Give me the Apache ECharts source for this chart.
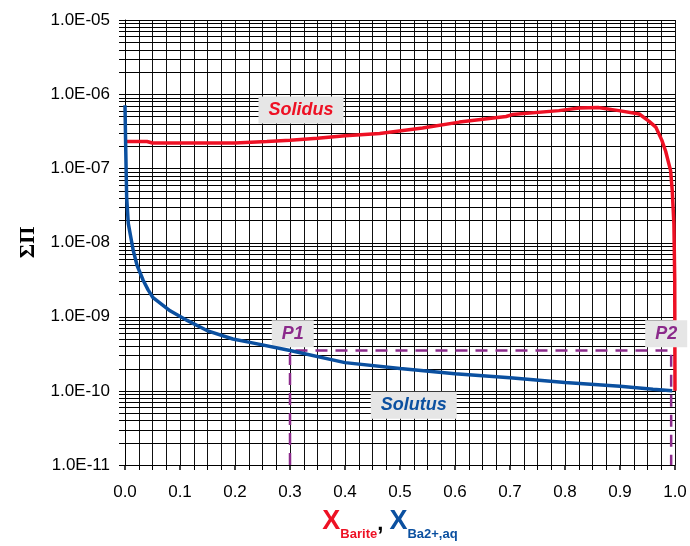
<!DOCTYPE html>
<html>
<head>
<meta charset="utf-8">
<script src="https://cdn.jsdelivr.net/npm/echarts@6/dist/echarts.min.js"></script>
<style>
  html, body { margin: 0; padding: 0; background: #fff; }
  #chart { width: 690px; height: 546px; }
</style>
</head>
<body>
<div id="chart"></div>
<script>
// Solutus curve: mole fraction of Ba2+ in the aqueous phase vs total solubility product
const solutusX = [0.0, 0.001, 0.002, 0.003, 0.006, 0.015, 0.022, 0.033, 0.042, 0.051, 0.082, 0.113, 0.149, 0.196,
                  0.227, 0.3, 0.4, 0.5, 0.6, 0.7, 0.8, 0.9, 0.96, 0.995];
const solutusY = [7.1e-7, 2.5e-7, 1.0e-7, 4.1e-8, 1.8e-8, 7.8e-9, 4.9e-9, 3.1e-9, 2.3e-9, 1.8e-9, 1.2e-9, 8.9e-10, 6.5e-10, 5.0e-10,
                  4.5e-10, 3.5e-10, 2.4e-10, 2.0e-10, 1.7e-10, 1.5e-10, 1.3e-10, 1.15e-10, 1.05e-10, 1.0e-10];

// Solidus curve: mole fraction of barite in the solid vs total solubility product
const solidusX = [0.003, 0.04, 0.05, 0.1, 0.2, 0.258, 0.3, 0.35, 0.4, 0.463, 0.541, 0.608, 0.693, 0.704,
                  0.789, 0.826, 0.86, 0.898, 0.935, 0.953, 0.965, 0.976, 0.983, 0.992, 0.995, 0.998, 0.9995, 1.0];
const solidusY = [2.3e-7, 2.3e-7, 2.2e-7, 2.2e-7, 2.2e-7, 2.3e-7, 2.4e-7, 2.55e-7, 2.75e-7, 2.95e-7, 3.5e-7, 4.2e-7,
                  5.0e-7, 5.3e-7, 6.0e-7, 6.5e-7, 6.6e-7, 6.0e-7, 5.4e-7, 4.3e-7, 3.6e-7, 2.4e-7, 1.7e-7, 9.3e-8,
                  5.0e-8, 1.8e-8, 3.2e-9, 1.0e-10];

// Points P1 and P2 on the common total solubility product level
const p1 = [0.3, 3.5e-10];
const p2 = [0.993, 3.5e-10];

// Axis ranges and tick labels
const xTicks = ['0.0', '0.1', '0.2', '0.3', '0.4', '0.5', '0.6', '0.7', '0.8', '0.9', '1.0'];
const yDecades = [-11, -10, -9, -8, -7, -6, -5];

const RED = '#ee1124';
const BLUE = '#0b50a0';
const PURPLE = '#8b2a8b';
const BOX = '#e6e6e6';
const SANS = 'Liberation Sans, Arial, sans-serif';

const zip = (xs, ys) => xs.map((x, i) => [x, ys[i]]);

const chart = echarts.init(document.getElementById('chart'), null, { renderer: 'canvas' });

function boxLabel(text, color) {
  return {
    show: true,
    position: 'inside',
    formatter: text,
    color: color,
    fontFamily: SANS,
    fontWeight: 'bold',
    fontStyle: 'italic',
    fontSize: 18,
    lineHeight: 18,
    backgroundColor: BOX,
    padding: [5, 10, 4, 10]
  };
}

const option = {
  animation: false,
  backgroundColor: '#fff',
  grid: { left: 125, right: 15, top: 20, bottom: 81, containLabel: false, outerBoundsMode: 'none' },
  xAxis: {
    type: 'value',
    min: 0, max: 1, interval: 0.1,
    axisLine: { show: true, onZero: false, lineStyle: { color: '#000', width: 1 } },
    axisTick: { show: true, inside: false, length: 5, lineStyle: { color: '#000', width: 1.5 } },
    minorTick: { show: true, splitNumber: 4, length: 5, lineStyle: { color: '#000', width: 1 } },
    splitLine: { show: true, lineStyle: { color: '#111', width: 1 } },
    minorSplitLine: { show: true, lineStyle: { color: '#111', width: 1 } },
    axisLabel: {
      margin: 19,
      color: '#000',
      fontFamily: SANS,
      fontSize: 17,
      formatter: (v) => xTicks[Math.round(v * 10)]
    },
    name: '{r|X}{rs|Barite}{k|, }{b|X}{bs|Ba2+,aq}',
    nameLocation: 'middle',
    nameGap: 43,
    nameTextStyle: {
      padding: [0, 20, 0, 0],
      rich: {
        r: { color: RED, fontFamily: SANS, fontWeight: 'bold', fontSize: 27, verticalAlign: 'bottom' },
        rs: { color: RED, fontFamily: SANS, fontWeight: 'bold', fontSize: 13, verticalAlign: 'bottom', padding: [0, 0, -6, 0] },
        k: { color: '#000', fontFamily: SANS, fontWeight: 'bold', fontSize: 22, verticalAlign: 'bottom' },
        b: { color: BLUE, fontFamily: SANS, fontWeight: 'bold', fontSize: 27, verticalAlign: 'bottom' },
        bs: { color: BLUE, fontFamily: SANS, fontWeight: 'bold', fontSize: 13, verticalAlign: 'bottom', padding: [0, 0, -6, 0] }
      }
    }
  },
  yAxis: {
    type: 'log',
    logBase: 10,
    min: Math.pow(10, yDecades[0]),
    max: Math.pow(10, yDecades[yDecades.length - 1]),
    axisLine: { show: true, lineStyle: { color: '#000', width: 1 } },
    axisTick: { show: false },
    splitLine: { show: false },
    axisLabel: {
      margin: 15,
      color: '#000',
      fontFamily: SANS,
      fontSize: 17,
      formatter: (v) => {
        const e = Math.round(Math.log10(v));
        const a = Math.abs(e);
        return '1.0E' + (e < 0 ? '-' : '+') + (a < 10 ? '0' + a : '' + a);
      }
    },
    name: 'ΣΠ',
    nameLocation: 'middle',
    nameRotate: 90,
    nameGap: 86,
    nameTextStyle: {
      color: '#000',
      fontFamily: 'Liberation Serif, Times New Roman, serif',
      fontWeight: 'bold',
      fontSize: 22
    }
  },
  series: [
    {
      name: 'P-lines',
      type: 'line',
      data: [[p1[0], Math.pow(10, yDecades[0])], p1, p2, [p2[0], Math.pow(10, yDecades[0])]],
      showSymbol: false,
      lineStyle: { color: PURPLE, width: 2.5, type: [12, 8] },
      z: 3,
      markPoint: {
        symbol: 'rect', symbolSize: 0.01,
        data: [
          { coord: [0.305, 5.9e-10], label: boxLabel('P1', PURPLE) },
          { coord: [0.984, 5.9e-10], label: boxLabel('P2', PURPLE) }
        ]
      }
    },
    {
      name: 'Solidus',
      type: 'line',
      data: zip(solidusX, solidusY),
      showSymbol: false,
      lineStyle: { color: RED, width: 3.5 },
      z: 4,
      markPoint: {
        symbol: 'rect', symbolSize: 0.01,
        data: [{ coord: [0.32, 6.1e-7], label: boxLabel('Solidus', RED) }]
      }
    },
    {
      name: 'Solutus',
      type: 'line',
      data: zip(solutusX, solutusY),
      showSymbol: false,
      lineStyle: { color: BLUE, width: 3.5 },
      z: 5,
      markPoint: {
        symbol: 'rect', symbolSize: 0.01,
        data: [{ coord: [0.525, 6.4e-11], label: boxLabel('Solutus', BLUE) }]
      }
    }
  ]
};

chart.setOption(option);

// Logarithmic grid: a line at every 1..9 x 10^n, each with a short tick left of the axis
function drawLogGrid() {
  const xl = chart.convertToPixel({ xAxisIndex: 0 }, 0);
  const xr = chart.convertToPixel({ xAxisIndex: 0 }, 1);
  const elements = [];
  for (let i = 0; i < yDecades.length; i++) {
    const d = yDecades[i];
    const mults = (i === yDecades.length - 1) ? [1] : [1, 2, 3, 4, 5, 6, 7, 8, 9];
    mults.forEach((m) => {
      const y = Math.round(chart.convertToPixel({ yAxisIndex: 0 }, m * Math.pow(10, d))) + 0.5;
      elements.push({
        type: 'line',
        silent: true,
        z: 0,
        shape: { x1: xl - 6, y1: y, x2: xr, y2: y },
        style: { stroke: '#000', lineWidth: 1 }
      });
    });
  }
  chart.setOption({ graphic: { elements: elements } });
}
drawLogGrid();
</script>
</body>
</html>
